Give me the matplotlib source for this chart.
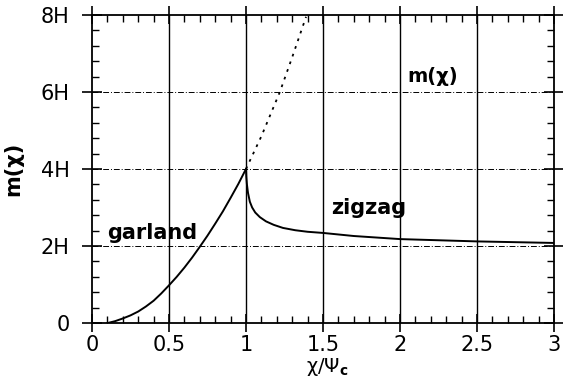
import numpy as np
import matplotlib
matplotlib.use('Agg')
import matplotlib.pyplot as plt
from matplotlib.ticker import MultipleLocator

plt.rcParams['font.family'] = ['DejaVu Sans']
plt.rcParams['mathtext.fontset'] = 'dejavusans'

# values (y in units of H)
garland_x = [0.10, 0.15, 0.20, 0.25, 0.30, 0.35, 0.40, 0.45, 0.50, 0.55,
             0.60, 0.65, 0.70, 0.75, 0.80, 0.85, 0.90, 0.95, 1.00]
garland_y = [0.00, 0.05, 0.12, 0.20, 0.30, 0.43, 0.58, 0.77, 0.98, 1.20,
             1.44, 1.70, 1.98, 2.27, 2.58, 2.90, 3.25, 3.61, 4.00]

dotted_x = [1.00, 1.10, 1.22, 1.30, 1.39]
dotted_y = [4.00, 4.85, 6.00, 6.90, 7.95]

zigzag_x = [1.00, 1.002, 1.006, 1.013, 1.025, 1.04, 1.06, 1.09, 1.13, 1.18,
            1.24, 1.32, 1.40, 1.50, 1.60, 1.70, 1.85, 2.00, 2.25, 2.50, 2.75, 3.00]
zigzag_y = [4.00, 3.80, 3.60, 3.38, 3.15, 3.00, 2.87, 2.75, 2.64, 2.55,
            2.47, 2.41, 2.37, 2.34, 2.30, 2.26, 2.22, 2.18, 2.15, 2.12, 2.10, 2.08]

yticks = [0, 2, 4, 6, 8]
ytick_labels = ['0', '2H', '4H', '6H', '8H']
xticks = [0, 0.5, 1, 1.5, 2, 2.5, 3]
xtick_labels = ['0', '0.5', '1', '1.5', '2', '2.5', '3']

fig = plt.figure(figsize=(5.63, 3.81), dpi=100)
ax = fig.add_axes([0.1634, 0.152, 0.8206, 0.809])

for xv in [0.5, 1, 1.5, 2, 2.5]:
    ax.axvline(xv, color='black', lw=1.0, zorder=1)
for yv in [2, 4, 6]:
    ax.axhline(yv, color='black', lw=0.7, ls=(0, (6, 2, 1, 2)), zorder=1)

ax.plot(garland_x, garland_y, color='black', lw=1.4, zorder=3)
ax.plot(dotted_x, dotted_y, color='black', lw=1.3, ls=(0, (1.5, 3)), zorder=3)
ax.plot(zigzag_x, zigzag_y, color='black', lw=1.4, zorder=3)

ax.set_xlim(0, 3)
ax.set_ylim(0, 8)
ax.set_xticks(xticks)
ax.set_xticklabels(xtick_labels)
ax.set_yticks(yticks)
ax.set_yticklabels(ytick_labels)
ax.xaxis.set_minor_locator(MultipleLocator(0.1))
ax.yaxis.set_minor_locator(MultipleLocator(0.4))
ax.tick_params(axis='y', which='major', direction='inout', length=14, width=1.2,
               left=True, right=True, labelsize=15, pad=9)
ax.tick_params(axis='x', which='major', direction='inout', length=13, width=1.2,
               top=True, bottom=True, labelsize=15, pad=2)
ax.tick_params(which='minor', direction='in', length=5, width=1,
               top=True, right=True)
for s in ax.spines.values():
    s.set_linewidth(1.3)

ax.set_xlabel(r'χ/Ψ$_\mathbf{c}$', fontsize=14)
ax.xaxis.set_label_coords(0.509, -0.106)
ax.set_ylabel('m(χ)', fontsize=15, fontweight='bold')
ax.yaxis.set_label_coords(-0.148, 0.5)

ax.text(2.05, 6.4, 'm(χ)', fontsize=14, fontweight='bold', va='center')
ax.text(1.55, 3.0, 'zigzag', fontsize=15, fontweight='bold', va='center')
ax.text(0.10, 2.35, 'garland', fontsize=15, fontweight='bold', va='center')

fig.savefig('out.png', dpi=100)
